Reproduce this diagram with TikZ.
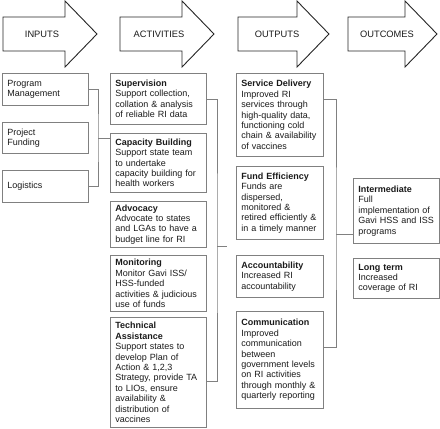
\documentclass[tikz,border=0pt]{standalone}
\usepackage{fontspec}
\setmainfont{Liberation Sans}
\definecolor{marco}{HTML}{808080}
\definecolor{texto}{HTML}{1A1A1A}

\begin{document}
\begin{tikzpicture}[x=1pt, y=-1pt,
    flecha/.style={draw=black!85, line width=0.9pt, fill=white},
    caja/.style={draw=marco, line width=0.8pt, anchor=north west, align=left,
      inner xsep=5pt, inner ysep=3pt, text=texto, font=\fontsize{9}{10.4}\selectfont},
    enlace/.style={draw=marco, line width=0.7pt}]
    \useasboundingbox (0,0) rectangle (440,429);
    % Flechas de encabezado
    \foreach \x/\w/\lbl/\nom in {3/62/INPUTS/inputs, 120/62/ACTIVITIES/activities, 238/59/OUTPUTS/outputs, 348/57/OUTCOMES/outcomes} {
        \draw[flecha] (\x,17) -- ++(\w,0) -- ++(0,-16) -- ++(32,33) -- ++(-32,33) -- ++(0,-16) -- ++(-\w,0) -- cycle;
        \node[text=texto, font=\fontsize{9.3}{10.4}\selectfont] (\nom) at (\x+39,34) {\lbl};
    }
    % Entradas
    \node[caja, text width=76pt, minimum height=32pt] (prog) at (2,73) {Program\\Management};
    \node[caja, text width=76pt, minimum height=31pt] (fund) at (2,122) {Project\\Funding};
    \node[caja, text width=76pt, minimum height=32pt] (logi) at (2,170) {Logistics};
    % Actividades
    \node[caja, text width=86pt, minimum height=51pt] (sup) at (110,73)
        {\textbf{Supervision}\\Support collection,\\collation \& analysis\\of reliable RI data};
    \node[caja, text width=86pt, minimum height=59pt] (capb) at (110,133)
        {\textbf{Capacity Building}\\Support state team\\to undertake\\capacity building for\\health workers};
    \node[caja, text width=86pt, minimum height=46pt] (adv) at (110,201)
        {\textbf{Advocacy}\\Advocate to states\\and LGAs to have a\\budget line for RI};
    \node[caja, text width=86pt, minimum height=56pt] (mon) at (110,255)
        {\textbf{Monitoring}\\Monitor Gavi ISS/\\HSS-funded\\activities \& judicious\\use of funds};
    \node[caja, text width=86pt, minimum height=110pt] (ta) at (110,317)
        {\textbf{Technical}\\\textbf{Assistance}\\Support states to\\develop Plan of\\Action \& 1,2,3\\Strategy, provide TA\\to LIOs, ensure\\availability \&\\distribution of\\vaccines};
    % Resultados
    \node[caja, text width=77pt, minimum height=83pt] (sd) at (236,73)
        {\textbf{Service Delivery}\\Improved RI\\services through\\high-quality data,\\functioning cold\\chain \& availability\\of vaccines};
    \node[caja, text width=77pt, minimum height=73pt] (fe) at (236,166)
        {\textbf{Fund Efficiency}\\Funds are\\dispersed,\\monitored \&\\retired efficiently \&\\in a timely manner};
    \node[caja, text width=77pt, minimum height=42pt] (acc) at (236,255)
        {\textbf{Accountability}\\Increased RI\\accountability};
    \node[caja, text width=77pt, minimum height=97pt] (comm) at (236,311)
        {\textbf{Communication}\\Improved\\communication\\between\\government levels\\on RI activities\\through monthly \&\\quarterly reporting};
    % Efectos
    \node[caja, text width=76pt, minimum height=65pt] (int) at (353,178)
        {\textbf{Intermediate}\\Full\\implementation of\\Gavi HSS and ISS\\programs};
    \node[caja, text width=76pt, minimum height=40pt] (lt) at (353,258)
        {\textbf{Long term}\\Increased\\coverage of RI};
    % Conectores
    \coordinate (junta1) at (98,138);
    \draw[enlace] (prog.east) -| (junta1) |- (logi.east);
    \draw[enlace] (junta1) -- (junta1 -| capb.west);
    \coordinate (junta2) at (217,246);
    \coordinate (hueco) at (227,246);
    \draw[enlace] (sup.east) -| (junta2) |- ([yshift=-9pt]ta.east);
    \draw[enlace] (junta2) -- (hueco);
    \coordinate (junta3) at (336,234);
    \draw[enlace] ([yshift=16pt]sd.east) -| (junta3) |- ([yshift=13pt]comm.east);
    \draw[enlace] (junta3) -- (junta3 -| int.west);
\end{tikzpicture}
\end{document}
